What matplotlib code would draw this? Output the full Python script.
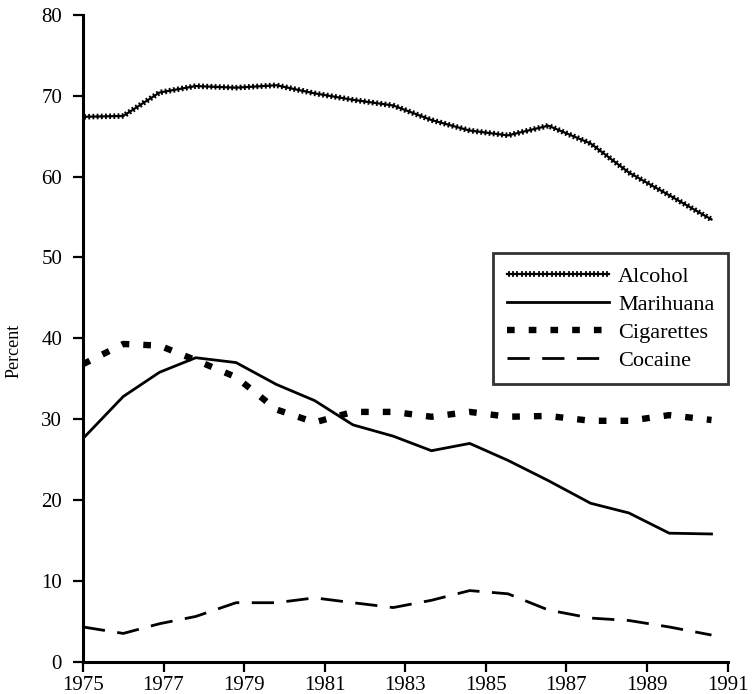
import matplotlib
matplotlib.use("Agg")
import matplotlib.pyplot as plt
import matplotlib.patheffects as pe

# x positions of the yearly points (1975 onwards)
years = [1975.0, 1976.0, 1976.9, 1977.8, 1978.8, 1979.8, 1980.75, 1981.7,
         1982.7, 1983.65, 1984.6, 1985.55, 1986.55, 1987.6, 1988.55, 1989.55, 1990.6]

alcohol = [67.4, 67.5, 70.4, 71.2, 71.0, 71.3, 70.3, 69.5, 68.8, 67.0,
           65.7, 65.1, 66.3, 64.1, 60.5, 57.7, 54.7]
marihuana = [27.6, 32.8, 35.8, 37.6, 37.0, 34.3, 32.3, 29.3, 27.9, 26.1,
             27.0, 24.9, 22.4, 19.6, 18.4, 15.9, 15.8]
cigarettes = [36.8, 39.3, 39.1, 37.3, 35.2, 31.2, 29.6, 30.9, 30.9, 30.3,
              30.9, 30.3, 30.4, 29.8, 29.8, 30.5, 29.9]
cocaine = [4.3, 3.5, 4.7, 5.6, 7.3, 7.3, 7.9, 7.3, 6.7, 7.6,
           8.8, 8.4, 6.4, 5.4, 5.1, 4.3, 3.3]

xticks = [1975, 1977, 1979, 1981, 1983, 1985, 1987, 1989, 1991]
yticks = [0, 10, 20, 30, 40, 50, 60, 70, 80]

plt.rcParams['font.family'] = ['Liberation Serif', 'DejaVu Serif']

fig = plt.figure(figsize=(7.54, 6.94), dpi=100)
ax = fig.add_axes([0.110, 0.0465, 0.855, 0.932])

# zigzag look for the alcohol line
wavy = [pe.Stroke(linewidth=1.6, foreground='black'),
        pe.TickedStroke(spacing=3.0, length=0.45, angle=90, linewidth=1.3),
        pe.TickedStroke(spacing=3.0, length=0.45, angle=-90, linewidth=1.3)]

ax.plot(years, alcohol, color='black', lw=1.6, path_effects=wavy, label='Alcohol')
ax.plot(years, marihuana, color='black', lw=2.0, label='Marihuana')
ax.plot(years, cigarettes, color='black', lw=4.6, linestyle=(0, (1.2, 2.2)),
        label='Cigarettes')
ax.plot(years, cocaine, color='black', lw=2.0, linestyle=(0, (8, 4.5)),
        label='Cocaine')

ax.set_xlim(1975, 1991)
ax.set_ylim(0, 80)
ax.set_xticks(xticks)
ax.set_yticks(yticks)
ax.spines['top'].set_visible(False)
ax.spines['right'].set_visible(False)
ax.spines['left'].set_linewidth(2.2)
ax.spines['bottom'].set_linewidth(2.2)
ax.tick_params(direction='out', length=7, width=1.6, labelsize=15)
ax.tick_params(axis='y', pad=8)
ax.tick_params(axis='x', pad=3)
ax.set_ylabel('Percent', fontsize=13)
ax.yaxis.set_label_coords(-0.093, 0.48)

leg = ax.legend(loc='upper right', bbox_to_anchor=(1.0, 0.632), fontsize=16,
                handlelength=4.6, handletextpad=0.4, labelspacing=0.33,
                borderpad=0.6, borderaxespad=0, fancybox=False, frameon=True)
leg.get_frame().set_edgecolor('black')
leg.get_frame().set_linewidth(2.0)

fig.savefig('out.png', dpi=100)
